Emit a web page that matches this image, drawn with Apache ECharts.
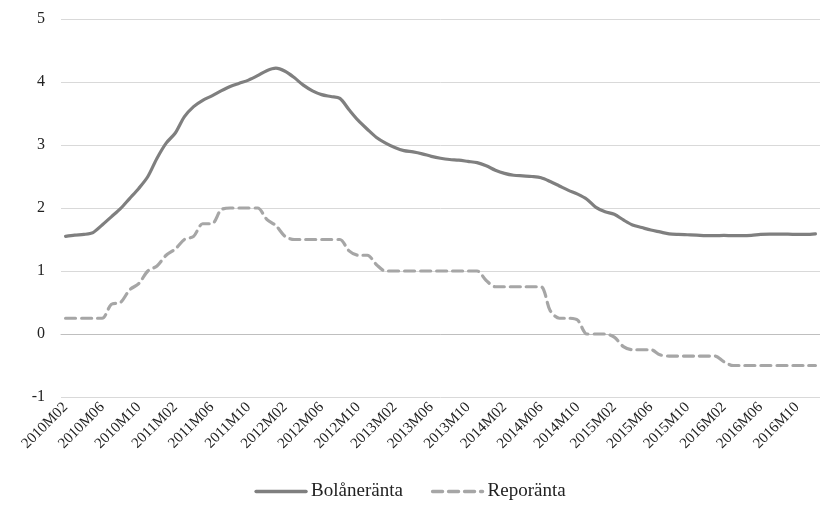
<!DOCTYPE html>
<html>
<head>
<meta charset="utf-8">
<script src="https://cdn.jsdelivr.net/npm/echarts@6/dist/echarts.min.js"></script>
<style>
  html, body { margin: 0; padding: 0; background: #fff; }
  #chart { width: 820px; height: 517px; }
</style>
</head>
<body>
<div id="chart"></div>
<script>
// Monthly periods, 2010M02 through 2016M12
const startYear = 2010, startMonth = 2, periodCount = 83;
const months = [];
for (let i = 0; i < periodCount; i++) {
  const m = startMonth - 1 + i;
  const y = startYear + Math.floor(m / 12);
  const mm = (m % 12) + 1;
  months.push(y + 'M' + (mm < 10 ? '0' + mm : mm));
}

// Mortgage rate (%)
const bolaneranta = [
  1.55, 1.57, 1.58, 1.61, 1.73, 1.86, 1.99, 2.15, 2.31, 2.50,
  2.79, 3.03, 3.19, 3.45, 3.61, 3.71, 3.78, 3.86, 3.93, 3.98,
  4.03, 4.10, 4.18, 4.22, 4.17, 4.07, 3.95, 3.86, 3.80, 3.77,
  3.74, 3.56, 3.39, 3.25, 3.12, 3.03, 2.96, 2.91, 2.89, 2.86,
  2.82, 2.79, 2.77, 2.76, 2.74, 2.72, 2.67, 2.60, 2.55, 2.52,
  2.51, 2.50, 2.48, 2.42, 2.35, 2.28, 2.22, 2.14, 2.01, 1.94,
  1.90, 1.81, 1.73, 1.69, 1.65, 1.62, 1.59, 1.58, 1.575, 1.57,
  1.56, 1.56, 1.565, 1.56, 1.56, 1.565, 1.58, 1.585, 1.585, 1.585,
  1.58, 1.58, 1.59
];

// Repo rate (%)
const reporanta = [
  0.25, 0.25, 0.25, 0.25, 0.25, 0.47, 0.50, 0.70, 0.80, 1.00,
  1.08, 1.25, 1.35, 1.50, 1.55, 1.75, 1.75, 1.97, 2.00, 2.00,
  2.00, 2.00, 1.82, 1.72, 1.55, 1.50, 1.50, 1.50, 1.50, 1.50,
  1.50, 1.32, 1.25, 1.25, 1.10, 1.00, 1.00, 1.00, 1.00, 1.00,
  1.00, 1.00, 1.00, 1.00, 1.00, 1.00, 0.85, 0.75, 0.75, 0.75,
  0.75, 0.75, 0.75, 0.37, 0.25, 0.25, 0.22, 0.00, 0.00, 0.00,
  -0.05, -0.20, -0.25, -0.25, -0.25, -0.33, -0.35, -0.35, -0.35, -0.35,
  -0.35, -0.35, -0.44, -0.50, -0.50, -0.50, -0.50, -0.50, -0.50, -0.50,
  -0.50, -0.50, -0.50
];

const seriesNames = ['Bolåneränta', 'Reporänta'];

const serif = '"Liberation Serif", "DejaVu Serif", serif';
const chart = echarts.init(document.getElementById('chart'));
chart.setOption({
  animation: false,
  backgroundColor: '#ffffff',
  grid: { left: 61, right: 0, top: 19, bottom: 120, containLabel: false },
  legend: {
    bottom: 11,
    left: 'center',
    itemWidth: 50,
    itemHeight: 12,
    itemGap: 28,
    itemStyle: { opacity: 0 },
    lineStyle: { width: 3.4 },
    textStyle: { fontFamily: serif, fontSize: 19, color: '#222' },
    data: seriesNames
  },
  xAxis: {
    type: 'category',
    data: months,
    boundaryGap: true,
    axisLine: { show: true, lineStyle: { color: '#bfbfbf', width: 1 } },
    axisTick: { show: false },
    axisLabel: {
      interval: 3,
      rotate: 45,
      margin: 8,
      fontFamily: serif,
      fontSize: 15,
      color: '#222'
    }
  },
  yAxis: {
    type: 'value',
    min: -1,
    max: 5,
    interval: 1,
    axisLine: { show: false },
    axisTick: { show: false },
    axisLabel: { fontFamily: serif, fontSize: 16, color: '#222', margin: 16 },
    splitLine: { lineStyle: { color: '#d9d9d9', width: 1 } }
  },
  series: [
    {
      name: seriesNames[0],
      type: 'line',
      data: bolaneranta,
      symbol: 'none',
      smooth: 0.3,
      color: '#7f7f7f',
      lineStyle: { color: '#7f7f7f', width: 3.2, cap: 'round', join: 'round' }
    },
    {
      name: seriesNames[1],
      type: 'line',
      data: reporanta,
      symbol: 'none',
      smooth: 0.3,
      color: '#a6a6a6',
      lineStyle: { color: '#a6a6a6', width: 3.2, type: [10, 6], cap: 'round', join: 'round' }
    }
  ]
});
</script>
</body>
</html>
